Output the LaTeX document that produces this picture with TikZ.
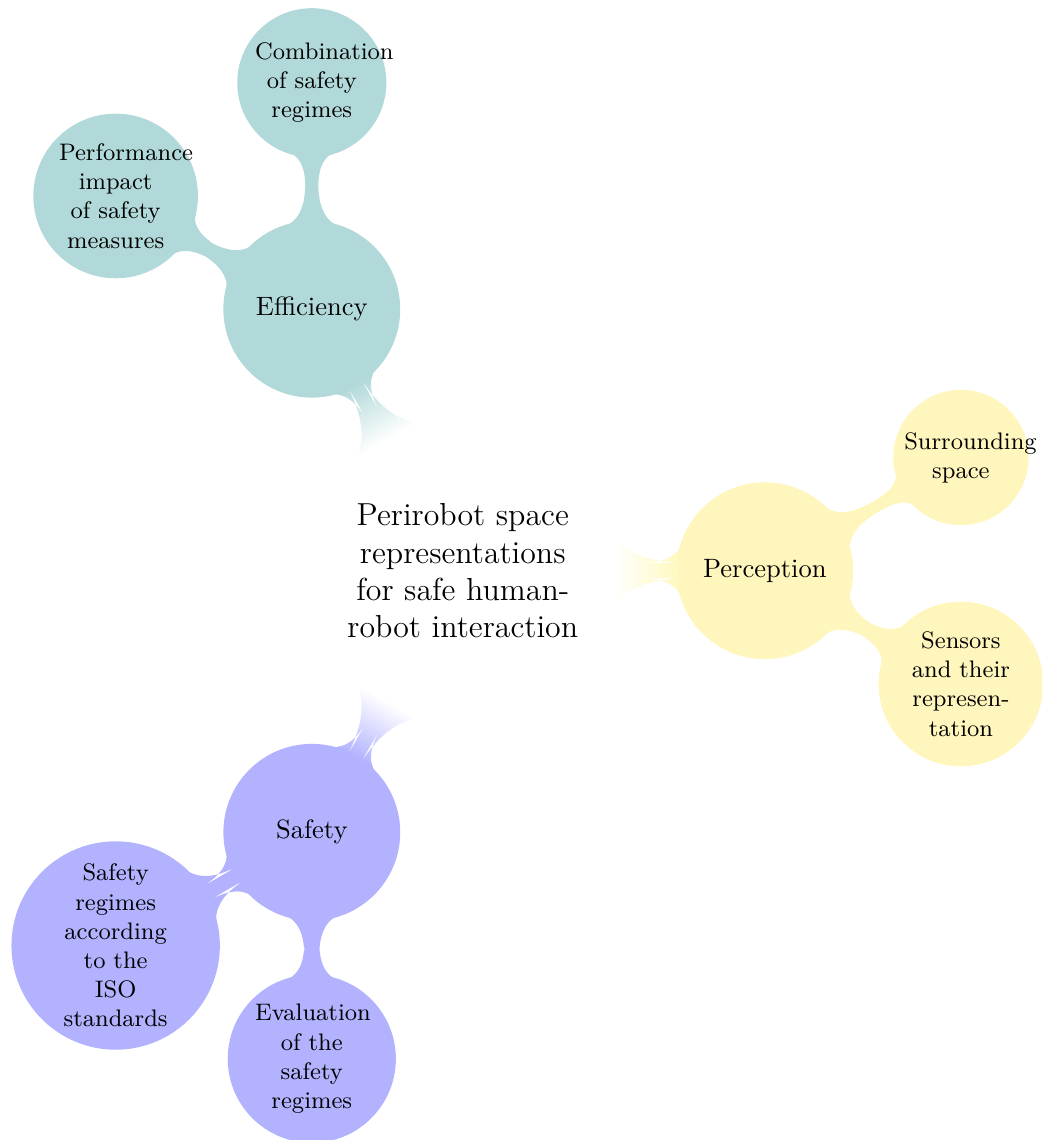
\documentclass[tikz,border=0pt]{standalone}
\usetikzlibrary{mindmap}
\colorlet{perceptioncolor}{yellow!80!orange!25}
\colorlet{efficiencycolor}{teal!30}
\colorlet{safetycolor}{blue!30}
\begin{document}
\begin{tikzpicture}[mindmap, concept color=white, text=black,
  centre/.style={concept, font=\large, text width=3.2cm, minimum size=4cm, fill=white},
  topic/.style={concept, font=\normalsize, text width=2cm, minimum size=2.3cm, inner sep=1pt},
  subtopic/.style={concept, font=\small, text width=1.5cm, inner sep=1pt},
  level 1/.append style={level distance=4cm},
  level 2/.append style={level distance=3cm}]
\useasboundingbox (-6.13,-7.54) rectangle (7.66,7.56);
\node[centre] (root) {Perirobot space representations for safe human-robot interaction}
  child[grow=0, concept color=perceptioncolor] {node[topic] (perception) {Perception}
    child[grow=30] {node[subtopic] (surrounding) {Surrounding space}}
    child[grow=-30] {node[subtopic] (sensors) {Sensors and their representation}}
  }
  child[grow=120, concept color=efficiencycolor] {node[topic] (efficiency) {Efficiency}
    child[grow=90] {node[subtopic] (combination) {Combination of safety regimes}}
    child[grow=150] {node[subtopic] (performance) {Performance impact of safety measures}}
  }
  child[grow=240, concept color=safetycolor] {node[topic] (safety) {Safety}
    child[grow=210] {node[subtopic] (regimes) {Safety regimes according to the ISO standards}}
    child[grow=270] {node[subtopic] (evaluation) {Evaluation of the safety regimes}}
  };
\end{tikzpicture}
\end{document}
